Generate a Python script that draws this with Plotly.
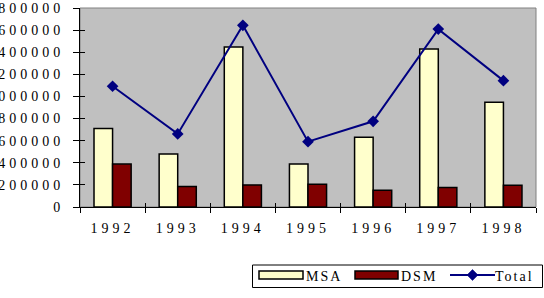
import plotly.graph_objects as go

years = ["1992", "1993", "1994", "1995", "1996", "1997", "1998"]
msa = [709000, 479000, 1448000, 389000, 630000, 1430000, 948000]
dsm = [388000, 185000, 200000, 206000, 152000, 176000, 197000]
total = [1092000, 661000, 1643000, 591000, 775000, 1609000, 1143000]

y_max = 1800000
y_step = 200000

W, H = 544, 298
L, R, T, B = 80, 8, 8, 91
PW, PH = W - L - R, H - T - B

def px(x):
    return (x - L) / PW

def py(y):
    return (H - B - y) / PH

FONT = "Liberation Serif, Times New Roman, serif"

fig = go.Figure()
fig.add_trace(go.Bar(x=years, y=msa, name="MSA",
                     marker=dict(color="#FFFFCC", line=dict(color="black", width=1.5))))
fig.add_trace(go.Bar(x=years, y=dsm, name="DSM",
                     marker=dict(color="#800000", line=dict(color="black", width=1.5))))
fig.add_trace(go.Scatter(x=years, y=total, name="Total", mode="lines+markers",
                         line=dict(color="#000080", width=2),
                         marker=dict(symbol="diamond", size=9, color="#000080")))
# invisible trace on overlay axes (used for inner half of the cross tick marks)
fig.add_trace(go.Scatter(x=years, y=total, xaxis="x2", yaxis="y2", mode="markers",
                         marker=dict(opacity=0), hoverinfo="skip", showlegend=False))

tickvals = list(range(0, y_max + 1, y_step))

fig.update_layout(
    width=W, height=H,
    margin=dict(l=L, r=R, t=T, b=B, autoexpand=False),
    paper_bgcolor="white", plot_bgcolor="#C0C0C0",
    barmode="group", bargap=0.43, bargroupgap=0,
    showlegend=False,
    font=dict(family=FONT, size=14, color="black"),
    xaxis=dict(type="category", categoryarray=years, range=[-0.5, 6.5],
               tickson="boundaries", ticks="outside", ticklen=5, tickcolor="black",
               showline=True, linecolor="black", linewidth=1, showgrid=False,
               tickfont=dict(family=FONT, size=14, color="black"), ticklabelstandoff=8,
               zeroline=False, fixedrange=True),
    yaxis=dict(range=[0, y_max], tickvals=tickvals, tickformat="d",
               ticks="outside", ticklen=6, tickcolor="black",
               showline=True, linecolor="black", linewidth=1, showgrid=False,
               zeroline=False, tickfont=dict(family=FONT, size=14, color="black"),
               ticklabelstandoff=6, fixedrange=True),
    xaxis2=dict(type="category", categoryarray=years, range=[-0.5, 6.5], overlaying="x",
                tickson="boundaries", ticks="inside", ticklen=4, tickcolor="black",
                showticklabels=False, showline=False, showgrid=False, zeroline=False,
                fixedrange=True),
    yaxis2=dict(range=[0, y_max], tickvals=tickvals, overlaying="y", side="left",
                ticks="inside", ticklen=5, tickcolor="black", showticklabels=False,
                showline=False, showgrid=False, zeroline=False, fixedrange=True),
)

shapes = []
annotations = []
# plot area border (top/right in gray)
shapes.append(dict(type="rect", xref="paper", yref="paper", x0=0, x1=1, y0=0, y1=1,
                   line=dict(color="#808080", width=1), layer="below"))

# manual legend
ly = 276
shapes.append(dict(type="rect", xref="paper", yref="paper",
                   x0=px(252.5), x1=px(542.5), y0=py(287.5), y1=py(265),
                   line=dict(color="black", width=1), fillcolor="white"))
shapes.append(dict(type="rect", xref="paper", yref="paper",
                   x0=px(259), x1=px(303), y0=py(279), y1=py(271),
                   line=dict(color="black", width=1.5), fillcolor="#FFFFCC"))
shapes.append(dict(type="rect", xref="paper", yref="paper",
                   x0=px(355), x1=px(398), y0=py(279), y1=py(271),
                   line=dict(color="black", width=1.5), fillcolor="#800000"))
shapes.append(dict(type="line", xref="paper", yref="paper",
                   x0=px(450), x1=px(495), y0=py(275), y1=py(275),
                   line=dict(color="#000080", width=2)))
cx, cy, r = 472.5, 275, 5.5
shapes.append(dict(type="path", xref="paper", yref="paper",
                   path=f"M {px(cx - r)},{py(cy)} L {px(cx)},{py(cy - r)} L {px(cx + r)},{py(cy)} L {px(cx)},{py(cy + r)} Z",
                   line=dict(color="#000080", width=0.5), fillcolor="#000080"))
for name, x0 in [("MSA", 307), ("DSM", 402), ("Total", 498)]:
    annotations.append(dict(text=name, xref="paper", yref="paper", x=px(x0), y=py(ly),
                            xanchor="left", yanchor="middle", showarrow=False,
                            font=dict(family=FONT, size=14, color="black")))

fig.update_layout(shapes=shapes, annotations=annotations)

css = ("g.xtick text, g.ytick text {letter-spacing:4px !important;} "
       "text.annotation-text {letter-spacing:2px !important;}")
post = ("var s=document.createElement('style');s.textContent='" + css + "';"
        "document.head.appendChild(s);")

fig.write_html("out.html", post_script=post, config={"displayModeBar": False})
